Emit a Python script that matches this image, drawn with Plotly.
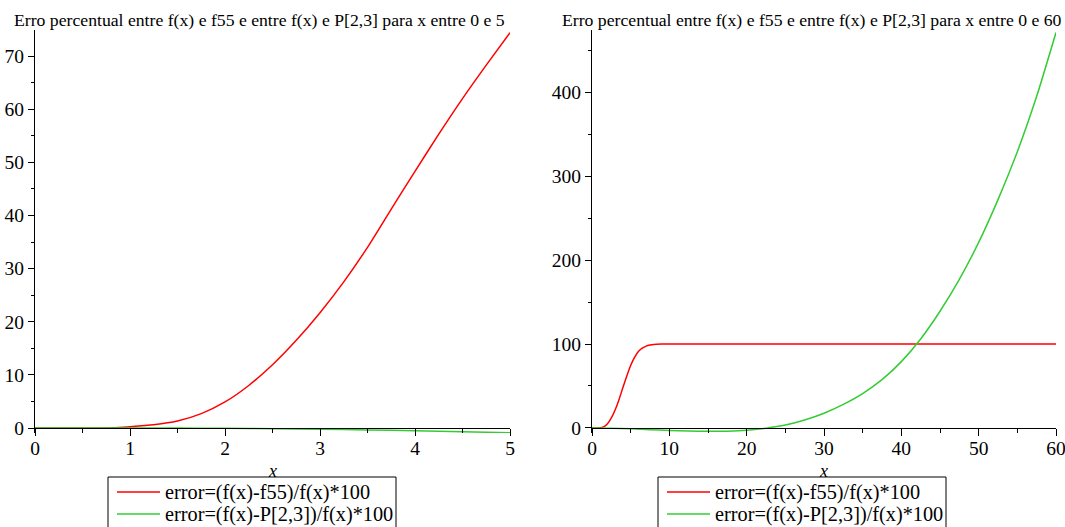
import plotly.graph_objects as go

W, H = 1065, 527

# Left panel: x in [0, 5]
x_left_red = [0, 0.5, 0.8, 1.0, 1.25, 1.5, 1.75, 2.0, 2.25, 2.5, 2.75, 3.0,
              3.25, 3.5, 3.75, 4.0, 4.25, 4.5, 4.75, 5.0]
err_f55_left = [0, 0, 0.05, 0.25, 0.6, 1.3, 2.7, 4.9, 8.0, 11.9, 16.5, 21.7,
                27.5, 34.0, 41.2, 48.3, 55.3, 62.0, 68.3, 74.4]
x_left_green = [0, 1, 1.5, 2, 2.5, 3, 3.5, 4, 4.5, 5]
err_p23_left = [0, 0, -0.01, -0.05, -0.12, -0.22, -0.36, -0.52, -0.7, -0.9]

# Right panel: x in [0, 60]
x_right_red = [0, 1, 1.5, 2, 2.5, 3, 3.5, 4, 4.5, 5, 5.5, 6, 6.5, 7, 7.5, 8,
               9, 10, 15, 20, 30, 40, 50, 60]
err_f55_right = [0, 0.25, 1.3, 4.9, 11.9, 21.7, 34, 48.3, 62, 74.4, 84, 91,
                 95, 97.5, 98.8, 99.5, 99.9, 100, 100, 100, 100, 100, 100, 100]
x_right_green = [0, 2.5, 5, 7.5, 10, 12.5, 15, 17.5, 20, 22.5, 25, 27.5, 30,
                 32.5, 35, 37.5, 40, 42.5, 45, 47.5, 50, 52.5, 55, 57.5, 60]
err_p23_right = [0, -0.2, -0.9, -2.0, -3.0, -3.7, -4.0, -3.8, -2.8, -0.3, 3.5,
                 9.5, 17.5, 28, 41, 57.5, 79, 106, 139, 177, 221, 272, 329, 395,
                 471]

names = ["error=(f(x)-f55)/f(x)*100", "error=(f(x)-P[2,3])/f(x)*100"]
titles = ["Erro percentual entre f(x) e f55 e entre f(x) e P[2,3] para x entre 0 e 5",
          "Erro percentual entre f(x) e f55 e entre f(x) e P[2,3] para x entre 0 e 60"]

RED = "#ff0000"
GREEN = "#33cc33"
COLORS = [RED, GREEN]
FONT = "Liberation Serif"

# pixel geometry of the two panels
top_px, bot_px, zero_px = 30, 433, 428
xl = (35, 510)
xr = (592, 1056)
yr_left = [-0.94, 74.9]
yr_right = [-6, 474]

def fx(px):
    return px / W

def fy(py):
    return 1 - py / H

line_style = dict(width=1.5, shape="spline", smoothing=0.6)

fig = go.Figure()
fig.add_trace(go.Scatter(x=x_left_red, y=err_f55_left, name=names[0],
                         mode="lines", line=dict(color=RED, **line_style),
                         xaxis="x", yaxis="y"))
fig.add_trace(go.Scatter(x=x_left_green, y=err_p23_left, name=names[1],
                         mode="lines", line=dict(color=GREEN, **line_style),
                         xaxis="x", yaxis="y"))
fig.add_trace(go.Scatter(x=x_right_red, y=err_f55_right, name=names[0],
                         mode="lines", line=dict(color=RED, **line_style),
                         xaxis="x2", yaxis="y2"))
fig.add_trace(go.Scatter(x=x_right_green, y=err_p23_right, name=names[1],
                         mode="lines", line=dict(color=GREEN, **line_style),
                         xaxis="x2", yaxis="y2"))

tickfont = dict(family=FONT, size=19.5, color="black")
ydom = [fy(bot_px), fy(top_px)]

def xaxis_cfg(dom, rng, dt, mdt):
    return dict(domain=[fx(dom[0]), fx(dom[1])], range=rng, anchor="free",
                position=fy(zero_px), showline=True, linecolor="black", linewidth=1,
                showgrid=False, zeroline=False, ticks="outside", ticklen=7,
                tickcolor="black", dtick=dt, tick0=0, tickfont=tickfont,
                ticklabelstandoff=-4,
                automargin=False, ticklabeloverflow="allow",
                minor=dict(dtick=mdt, ticks="outside", ticklen=4, tickcolor="black", showgrid=False))

def yaxis_cfg(rng, dt, mdt, xname):
    return dict(domain=ydom, range=rng, anchor=xname, showline=True,
                linecolor="black", linewidth=1, showgrid=False, zeroline=False,
                ticks="outside", ticklen=6, tickcolor="black", dtick=dt, tick0=0,
                tickfont=tickfont, automargin=False, ticklabeloverflow="allow",
                minor=dict(dtick=mdt, ticks="outside", ticklen=3, tickcolor="black", showgrid=False))

def label(text, px, py, size, xanchor="center"):
    return dict(text=text, x=fx(px), y=fy(py), xref="paper", yref="paper",
                xanchor=xanchor, yanchor="middle", showarrow=False,
                font=dict(family=FONT, size=size, color="black"))

# Boxed key below each panel: framed box, a line sample and a caption per series
shapes = []
annotations = [
    label(titles[0], 259, 20, 17.7),
    label(titles[1], 812, 20, 17.7),
    label("<i>x</i>", 272, 471, 18),
    label("<i>x</i>", 823, 471, 18),
]
key_rows = [492, 514]
for left in (108, 658):
    shapes.append(dict(type="rect", xref="paper", yref="paper",
                       x0=fx(left), x1=fx(left + 288), y0=fy(545), y1=fy(477),
                       line=dict(color="black", width=1), fillcolor="rgba(0,0,0,0)"))
    for name, color, row in zip(names, COLORS, key_rows):
        shapes.append(dict(type="line", xref="paper", yref="paper",
                           x0=fx(left + 9), x1=fx(left + 52), y0=fy(row), y1=fy(row),
                           line=dict(color=color, width=1.5)))
        annotations.append(label(name, left + 55, row, 20.3, xanchor="left"))

fig.update_layout(
    width=W, height=H, margin=dict(l=0, r=0, t=0, b=0, autoexpand=False),
    paper_bgcolor="white", plot_bgcolor="white", showlegend=False,
    xaxis=xaxis_cfg(xl, [0, 5], 1, 0.5),
    yaxis=yaxis_cfg(yr_left, 10, 5, "x"),
    xaxis2=xaxis_cfg(xr, [0, 60], 10, 5),
    yaxis2=yaxis_cfg(yr_right, 100, 50, "x2"),
    shapes=shapes,
    annotations=annotations,
)

fig.write_html("out.html")
